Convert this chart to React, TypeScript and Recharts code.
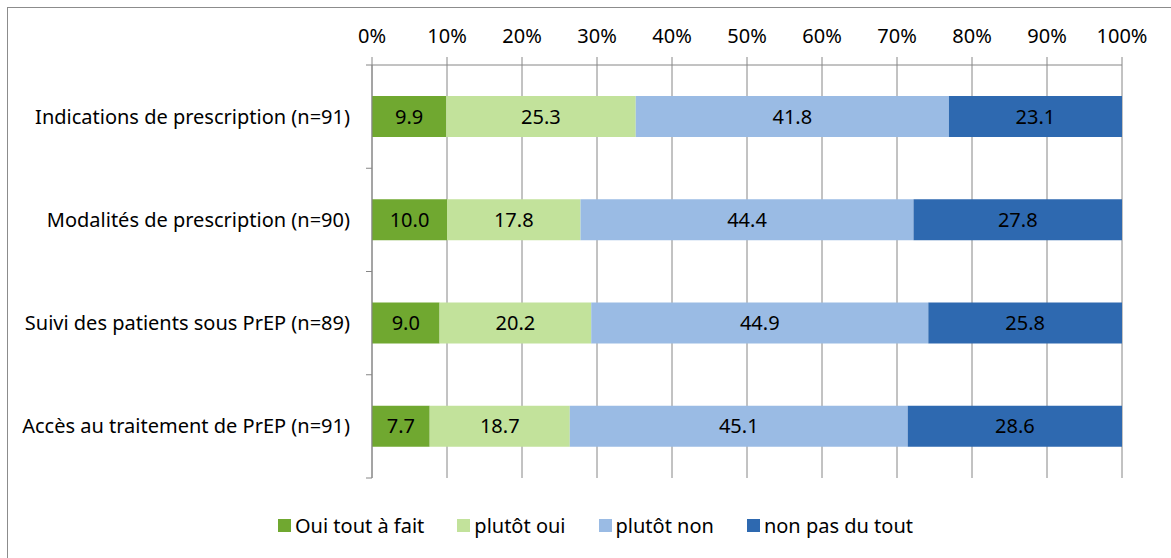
import React from "react";
import { Bar, BarChart, CartesianGrid, LabelList, Legend, XAxis, YAxis } from "recharts";

const categories = [
  "Indications de prescription (n=91)",
  "Modalités de prescription (n=90)",
  "Suivi des patients sous PrEP (n=89)",
  "Accès au traitement de PrEP (n=91)",
];
const ouiToutAFait = [9.9, 10.0, 9.0, 7.7];
const plutotOui = [25.3, 17.8, 20.2, 18.7];
const plutotNon = [41.8, 44.4, 44.9, 45.1];
const nonPasDuTout = [23.1, 27.8, 25.8, 28.6];
const xTicks = [0, 0.1, 0.2, 0.3, 0.4, 0.5, 0.6, 0.7, 0.8, 0.9, 1];

const series = [
  { key: "oui", name: "Oui tout à fait", color: "#70a830" },
  { key: "plutotOui", name: "plutôt oui", color: "#c2e29b" },
  { key: "plutotNon", name: "plutôt non", color: "#9abbe4" },
  { key: "non", name: "non pas du tout", color: "#2e69b0" },
];

const data = categories.map((name, i) => ({
  name,
  oui: ouiToutAFait[i],
  plutotOui: plutotOui[i],
  plutotNon: plutotNon[i],
  non: nonPasDuTout[i],
}));

const FONT = "'Noto Sans', sans-serif";
const FS = 20;
const AXIS = "#868686";
const PLOT_TOP = 65;
const PLOT_BOTTOM = 478;
const BAND = (PLOT_BOTTOM - PLOT_TOP) / categories.length;

function CategoryTick(props: any) {
  const { x, y, payload, index } = props;
  const lineX = x + 22;
  return (
    <g>
      <text x={x} y={y} dy={7} textAnchor="end" fontSize={FS} fontFamily={FONT} fill="#000">
        {payload.value}
      </text>
      <line x1={lineX - 6} x2={lineX} y1={y - BAND / 2} y2={y - BAND / 2} stroke={AXIS} />
      {index === categories.length - 1 && <line x1={lineX - 6} x2={lineX} y1={y + BAND / 2} y2={y + BAND / 2} stroke={AXIS} />}
    </g>
  );
}

function LegendBox() {
  return (
    <div style={{ display: "flex", justifyContent: "center", gap: 33, height: 30, alignItems: "center", paddingLeft: 20, fontFamily: FONT, fontSize: FS }}>
      {series.map((s) => (
        <div key={s.key} style={{ display: "flex", alignItems: "center", gap: 4 }}>
          <span style={{ width: 13, height: 13, background: s.color, display: "inline-block" }} />
          <span>{s.name}</span>
        </div>
      ))}
    </div>
  );
}

export default function App() {
  return (
    <div style={{ position: "absolute", left: 0, top: 0, width: 1171, height: 558, background: "#fff", overflow: "hidden" }}>
      <div style={{ position: "absolute", left: 7, top: 7, width: 1170, height: 560, border: "1px solid #8c8c8c" }} />
      <BarChart
        width={1171}
        height={558}
        data={data}
        layout="vertical"
        stackOffset="expand"
        barCategoryGap={31}
        margin={{ top: PLOT_TOP - 30, right: 49, bottom: 50, left: 0 }}
        style={{ position: "absolute", left: 0, top: 0 }}
      >
        <CartesianGrid horizontal={false} stroke={AXIS} />
        <XAxis
          type="number"
          orientation="top"
          domain={[0, 1]}
          ticks={xTicks}
          tickFormatter={(v: number) => `${Math.round(v * 100)}%`}
          height={30}
          tickSize={8}
          tickMargin={14}
          stroke={AXIS}
          tick={{ fill: "#000", fontSize: FS, fontFamily: FONT }}
        />
        <YAxis
          type="category"
          dataKey="name"
          width={372}
          tickLine={false}
          tickSize={0}
          tickMargin={22}
          stroke={AXIS}
          tick={<CategoryTick />}
        />
        <Legend verticalAlign="bottom" wrapperStyle={{ bottom: 18, left: 0, width: 1171 }} content={() => <LegendBox />} />
        {series.map((s) => (
          <Bar key={s.key} dataKey={s.key} name={s.name} stackId="a" fill={s.color} isAnimationActive={false}>
            <LabelList dataKey={s.key} position="center" fill="#000" fontSize={FS} fontFamily={FONT} formatter={(v: any) => Number(v).toFixed(1)} />
          </Bar>
        ))}
      </BarChart>
    </div>
  );
}
